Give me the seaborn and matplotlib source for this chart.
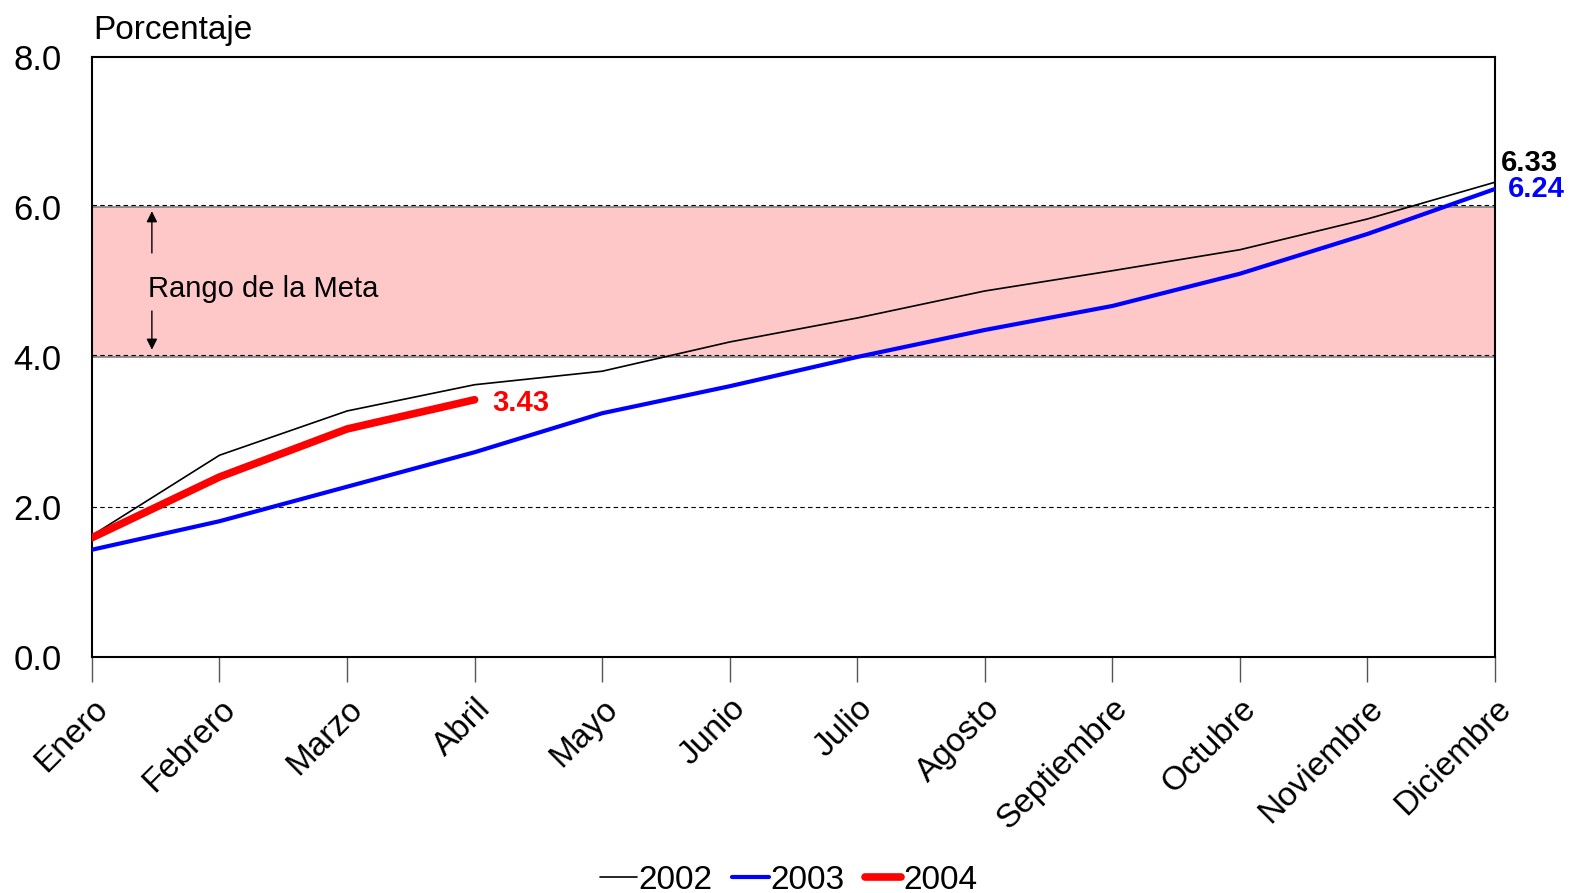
import matplotlib
matplotlib.use("Agg")
import matplotlib.pyplot as plt
import seaborn as sns
import pandas as pd
import numpy as np

# Datos
meses = ["Enero", "Febrero", "Marzo", "Abril", "Mayo", "Junio", "Julio",
         "Agosto", "Septiembre", "Octubre", "Noviembre", "Diciembre"]
serie_2002 = [1.62, 2.69, 3.28, 3.63, 3.81, 4.20, 4.52, 4.88, 5.15, 5.43, 5.84, 6.33]
serie_2003 = [1.43, 1.81, 2.27, 2.73, 3.25, 3.61, 4.00, 4.36, 4.68, 5.11, 5.64, 6.24]
serie_2004 = [1.59, 2.40, 3.04, 3.43]
meta_baja, meta_alta = 4.0, 6.0
yticks = [0.0, 2.0, 4.0, 6.0, 8.0]

sns.set_theme(style="white")
plt.rcParams["font.family"] = ["Liberation Sans", "DejaVu Sans"]
plt.rcParams["text.color"] = "black"
plt.rcParams["xtick.color"] = "black"
plt.rcParams["ytick.color"] = "black"

filas = []
for anio, vals in [("2002", serie_2002), ("2003", serie_2003), ("2004", serie_2004)]:
    for i, v in enumerate(vals):
        filas.append({"mes": i, "valor": v, "anio": anio})
df = pd.DataFrame(filas)

fig = plt.figure(figsize=(15.77, 8.93), dpi=100)
ax = fig.add_axes([0.0583, 0.2643, 0.8897, 0.6719])

# Rango de la meta
ax.axhspan(meta_baja, meta_alta, facecolor="#ffc8c8", edgecolor="#808080", linewidth=1.2, zorder=0)
for y in [2.0, 4.0, 6.0]:
    ax.axhline(y + (0.03 if y > 2 else 0), color="black", linestyle=(0, (4, 3)), linewidth=0.8, zorder=1)

colores = {"2002": "black", "2003": "#0000ff", "2004": "#ff0000"}
anchos = {"2002": 1.2, "2003": 3.0, "2004": 5.5}
sns.lineplot(data=df, x="mes", y="valor", hue="anio", size="anio",
             palette=colores, sizes=anchos, ax=ax, zorder=3, legend=True)
for line in ax.get_lines():
    line.set_solid_capstyle("round")

ax.set_xlim(0, 11)
ax.set_ylim(0, 8)
ax.set_yticks(yticks)
ax.set_yticklabels([f"{v:.1f}" for v in yticks], fontsize=25)
ax.set_xticks(range(12))
ax.set_xticklabels(meses, rotation=45, ha="right", rotation_mode="anchor", fontsize=24)
ax.tick_params(axis="x", direction="out", length=18, width=1, color="#555555", pad=8, bottom=True)
ax.tick_params(axis="y", length=0, pad=22)
ax.set_xlabel("")
ax.set_ylabel("")
for s in ax.spines.values():
    s.set_color("black")
    s.set_linewidth(1.5)

# Textos
fig.text(0.059, 0.948, "Porcentaje", fontsize=24, ha="left", va="bottom")
ax.text(0.44, 4.9, "Rango de la Meta", fontsize=21, ha="left", va="center")
ax.annotate("", xy=(0.47, 5.98), xytext=(0.47, 5.35),
            arrowprops=dict(arrowstyle="-|>", color="black", lw=1, mutation_scale=16))
ax.annotate("", xy=(0.47, 4.06), xytext=(0.47, 4.65),
            arrowprops=dict(arrowstyle="-|>", color="black", lw=1, mutation_scale=16))
ax.text(11.05, serie_2002[-1] + 0.07, f"{serie_2002[-1]:.2f}", fontsize=21, fontweight="bold",
        color="black", ha="left", va="bottom", clip_on=False)
ax.text(11.1, serie_2003[-1], f"{serie_2003[-1]:.2f}", fontsize=21, fontweight="bold",
        color="#0000ff", ha="left", va="center", clip_on=False)
ax.text(3.14, serie_2004[-1] - 0.05, f"{serie_2004[-1]:.2f}", fontsize=21, fontweight="bold",
        color="#ff0000", ha="left", va="center")

# Leyenda
handles, labels = ax.get_legend_handles_labels()
ax.get_legend().remove()
fig.legend(handles, labels, loc="center", bbox_to_anchor=(0.5, 0.014), ncol=3,
           frameon=False, fontsize=24, handlelength=1.1, handletextpad=0.05, columnspacing=0.6)

fig.savefig("out.png", dpi=100)
